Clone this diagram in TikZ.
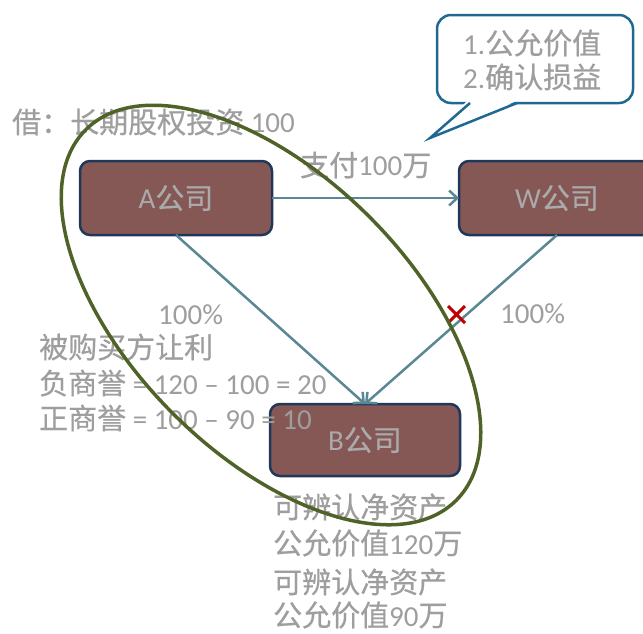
\documentclass[tikz,border=0pt]{standalone}
\usepackage{fontspec}
\setmainfont{Carlito}
\newfontfamily\cjk[FakeBold=0.6]{Noto Sans CJK SC}
\newcommand\zhtxt[1]{{\cjk #1}}
\usetikzlibrary{arrows.meta}
\definecolor{boxfill}{RGB}{133,88,86}
\definecolor{boxline}{RGB}{31,56,90}
\definecolor{connc}{RGB}{89,135,148}
\definecolor{ellc}{RGB}{79,98,40}
\definecolor{bubc}{RGB}{31,104,146}
\definecolor{txtc}{RGB}{158,158,158}
\definecolor{boxtxt}{RGB}{170,170,170}
\definecolor{xred}{RGB}{192,0,0}
\tikzset{
  company/.style={draw=boxline, fill=boxfill, line width=2.5pt, rounded corners=10pt,
    minimum width=192pt, minimum height=74pt, inner sep=0pt, outer sep=0pt, text=boxtxt},
  conn/.style={draw=connc, line width=2.5pt, -{Straight Barb[length=8pt,width=15pt]}},
  txt/.style={text=txtc, inner sep=0pt, anchor=west},
  ell/.style={draw=ellc, line width=3.5pt},
  bubble/.style={draw=bubc, line width=2.5pt},
  xmk/.style={draw=xred, line width=3pt},
}
\begin{document}
\begin{tikzpicture}[x=1pt,y=-1pt, font=\fontsize{29}{34}\selectfont]
\useasboundingbox (0,0) rectangle (643,633);
\clip (0,0) rectangle (643,633);

% boxes
\node[company] (A) at (176,198) {A\zhtxt{公司}};
\node[company, minimum width=196pt] (W) at (557,198) {W\zhtxt{公司}};
\node[company, minimum width=190pt, minimum height=72pt] (B) at (365,440) {B\zhtxt{公司}};

% connectors
\draw[conn] (A.east) -- (W.west);
\draw[conn] (A.south) -- (B.north);
\draw[conn] (W.south) -- (B.north);

% red cross
\coordinate (xm) at (456.5,314.5);
\draw[xmk] ([shift={(-8.5,-8.5)}]xm) -- ([shift={(8.5,8.5)}]xm)
           ([shift={(8.5,-8.5)}]xm) -- ([shift={(-8.5,8.5)}]xm);

% speech bubble
\draw[bubble, rounded corners=14pt, fill=white] (437,15) rectangle (633,103);
\fill[white] (468,100) -- (430,138) -- (519,100) -- cycle;
\draw[bubble] (470,103) -- (430,138) -- (517,103);
\node[txt] (bub1) at (463,43) {1.\zhtxt{公允价值}};
\node[txt] (bub2) at (463,77) {2.\zhtxt{确认损益}};

% texts
\node[txt] (debit) at (12,122) {\zhtxt{借：长期股权投资} 100};
\node[txt] (pay) at (300,165) {\zhtxt{支付}100\zhtxt{万}};
\node[txt] (pl) at (158,315) {100\%};
\node[txt] (pr) at (500,314) {100\%};
\node[txt] (t1) at (39,347) {\zhtxt{被购买方让利}};
\node[txt] (t2) at (39,383) {\zhtxt{负商誉} = 120 -- 100 = 20};
\node[txt] (t3) at (39,418) {\zhtxt{正商誉} = 100 -- 90 = 10};
\node[txt] (b1) at (273,507) {\zhtxt{可辨认净资产}};
\node[txt] (b2) at (273,543) {\zhtxt{公允价值}120\zhtxt{万}};
\node[txt] (b3) at (273,582) {\zhtxt{可辨认净资产}};
\node[txt] (b4) at (273,615) {\zhtxt{公允价值}90\zhtxt{万}};

% ellipse
\draw[ell, rotate around={-45:(271,315)}] (271,315) ellipse [x radius=262pt, y radius=139pt];
\end{tikzpicture}
\end{document}
